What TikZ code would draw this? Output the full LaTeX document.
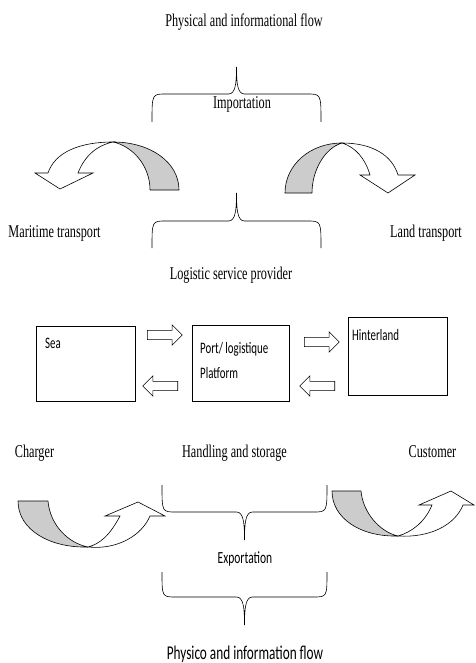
\documentclass[tikz,border=0pt]{standalone}
\usepackage{fontspec}
\setmainfont{Liberation Serif}[FakeStretch=0.68]
\newfontfamily\calibrifont{Carlito}[FakeStretch=0.68]
\usetikzlibrary{shapes.arrows,positioning}

% curly brace: left x, right x, end y, bar y, tip y
\newcommand{\flowbrace}[5]{%
  \draw[bracestyle] (#1,#3) .. controls (#1,#4) .. ({#1+14},#4)
    -- ({(#1+#2)/2-8},#4) .. controls ({(#1+#2)/2-1},#4) and ({(#1+#2)/2},{#4+0.4*(#5-#4)}) .. ({(#1+#2)/2},#5)
    .. controls ({(#1+#2)/2},{#4+0.4*(#5-#4)}) and ({(#1+#2)/2+1},#4) .. ({(#1+#2)/2+8},#4)
    -- ({#2-14},#4) .. controls (#2,#4) .. (#2,#3);}

\begin{document}
\begin{tikzpicture}[x=1pt,y=-1pt,
  flowtext/.style={font=\fontsize{18}{20}\selectfont, inner sep=0pt, anchor=base},
  box/.style={draw, line width=0.8pt, minimum width=98pt, minimum height=76pt, inner sep=0pt},
  boxtext/.style={font=\calibrifont\fontsize{16}{18}\selectfont, inner sep=0pt, anchor=base west},
  blockarrow/.style={draw, single arrow, single arrow head extend=5.6pt, single arrow tip angle=90,
    inner sep=4.3pt, minimum height=35pt, line width=0.6pt},
  bracestyle/.style={line width=0.6pt},
  shade/.style={draw, fill=gray!40, line width=0.6pt, line join=round},
  hollow/.style={draw, fill=white, line width=0.6pt}]

  \path[use as bounding box, fill=white] (0,0) rectangle (475,663);

  % titles and labels
  \node[flowtext] (phys) at (244,27) {Physical and informational flow};
  \node[flowtext] (imp) at (242,109) {Importation};
  \node[flowtext] (mar) at (54.5,237) {Maritime transport};
  \node[flowtext] (land) at (426,237) {Land transport};
  \node[flowtext] (lsp) at (231,279) {Logistic service provider};
  \node[flowtext] (charger) at (34.5,457) {Charger};
  \node[flowtext] (handling) at (234.5,457) {Handling and storage};
  \node[flowtext] (customer) at (432.5,457) {Customer};
  \node[flowtext, font=\calibrifont\fontsize{17}{19}\selectfont] (exp) at (245,563) {Exportation};
  \node[flowtext, font=\calibrifont\fontsize{19.5}{21}\selectfont] (physico) at (245,659) {Physico and information flow};

  % braces
  \flowbrace{152}{321}{122}{94}{67}
  \flowbrace{152}{321}{248}{221}{193}
  \flowbrace{162}{327}{485}{512}{540}
  \flowbrace{162}{327}{572}{597}{625}

  % boxes
  \node[box, minimum width=99pt, minimum height=75pt] (sea) at (85.5,363.5) {};
  \node[box, minimum width=97pt] (port) at (240.5,363) {};
  \node[box, minimum width=99pt, minimum height=78pt] (hinter) at (397.5,356) {};
  \node[boxtext] (seatext) at (45,348) {Sea};
  \node[boxtext] (porttext) at (200,353) {Port/ logistique};
  \node[boxtext] (plattext) at (200,378) {Platform};
  \node[boxtext] (hintertext) at (352,340) {Hinterland};

  % block arrows between the boxes
  \node[blockarrow] (seaport) at (162.5,335) {};
  \node[blockarrow, shape border rotate=180] (portsea) at (162.5,386) {};
  \node[blockarrow] (porthinter) at (319.5,342) {};
  \node[blockarrow, shape border rotate=180] (hinterport) at (319.5,386) {};

  % curved arrow, top left
  \path[shade] (150,190) -- (179,190) .. controls (179,162) and (150,142) .. (113,142)
    .. controls (132,146) and (150,165) .. (150,190) -- cycle;
  \path[hollow] (113,142) .. controls (80,142) and (55,152) .. (48,173) -- (35,173) -- (60,189)
    -- (93,173) -- (78,173) .. controls (85,155) and (98,145) .. (113,142) -- cycle;

  % curved arrow, top right
  \path[shade] (285,193) -- (312,193) .. controls (312,170) and (325,148) .. (342,143)
    .. controls (310,143) and (285,165) .. (285,193) -- cycle;
  \path[hollow] (342,143) .. controls (372,143) and (392,155) .. (398,175) -- (415,175) -- (388,193)
    -- (360,175) -- (370,175) .. controls (365,158) and (355,147) .. (342,143) -- cycle;

  % curved arrow, bottom left
  \path[shade] (18,501) -- (48,501) .. controls (50,525) and (68,543) .. (88,547)
    .. controls (50,548) and (18,530) .. (18,501) -- cycle;
  \path[hollow] (88,547) .. controls (118,550) and (142,535) .. (150,516) -- (165,516) -- (138,502)
    -- (105,516) -- (120,516) .. controls (110,535) and (100,544) .. (88,547) -- cycle;

  % curved arrow, bottom right
  \path[shade] (332,491) -- (361,491) .. controls (363,513) and (380,532) .. (398,536)
    .. controls (360,537) and (332,518) .. (332,491) -- cycle;
  \path[hollow] (398,536) .. controls (430,538) and (455,525) .. (463,505) -- (474,505) -- (451,491)
    -- (419,505) -- (432,505) .. controls (425,522) and (412,532) .. (398,536) -- cycle;

\end{tikzpicture}
\end{document}
